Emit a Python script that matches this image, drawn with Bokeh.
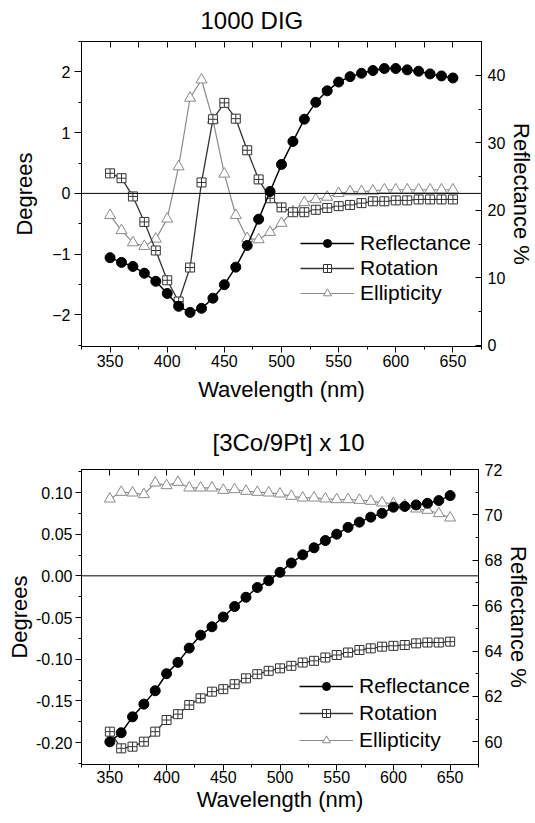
from bokeh.plotting import figure
from bokeh.models import (Range1d, LinearAxis, FixedTicker, Span, Legend, LegendItem,
                          PrintfTickFormatter)
from bokeh.layouts import column
from bokeh.embed import file_html
from bokeh.resources import INLINE

# ---------------- data ----------------
wavelength = [350, 360, 370, 380, 390, 400, 410, 420, 430, 440, 450, 460, 470, 480, 490, 500,
              510, 520, 530, 540, 550, 560, 570, 580, 590, 600, 610, 620, 630, 640, 650]

# Panel 1: 1000 DIG
dig_reflectance = [13.0, 12.3, 11.7, 10.7, 9.5, 7.7, 5.8, 4.9, 5.5, 7.0, 9.0, 11.6, 14.8, 18.7,
                   22.8, 26.8, 30.2, 33.5, 36.0, 37.7, 39.0, 39.8, 40.3, 40.7, 41.0, 41.0, 40.8,
                   40.6, 40.2, 39.9, 39.6]
dig_rotation = [0.33, 0.25, -0.05, -0.47, -0.94, -1.43, -1.78, -1.22, 0.18, 1.22, 1.49, 1.23,
                0.71, 0.23, -0.08, -0.23, -0.31, -0.31, -0.27, -0.24, -0.21, -0.19, -0.16,
                -0.13, -0.13, -0.115, -0.115, -0.10, -0.10, -0.10, -0.10]
dig_ellipticity = [-0.36, -0.61, -0.81, -0.87, -0.75, -0.42, 0.44, 1.57, 1.87, 1.21, 0.32, -0.36,
                   -0.74, -0.76, -0.64, -0.49, -0.30, -0.15, -0.10, -0.06, 0.0, 0.03, 0.03, 0.04,
                   0.06, 0.06, 0.06, 0.06, 0.06, 0.06, 0.06]

# Panel 2: [3Co/9Pt] x 10
copt_reflectance = [60.0, 60.4, 61.1, 61.66, 62.25, 63.0, 63.5, 64.13, 64.7, 65.07, 65.5, 65.96,
                    66.37, 66.8, 67.1, 67.47, 67.88, 68.24, 68.55, 68.87, 69.15, 69.45, 69.68,
                    69.9, 70.07, 70.34, 70.37, 70.44, 70.51, 70.63, 70.85]
copt_rotation = [-0.187, -0.207, -0.205, -0.199, -0.187, -0.173, -0.166, -0.155, -0.147, -0.139,
                 -0.136, -0.130, -0.123, -0.118, -0.114, -0.111, -0.108, -0.104, -0.102, -0.098,
                 -0.095, -0.092, -0.089, -0.087, -0.085, -0.084, -0.083, -0.081, -0.080, -0.080,
                 -0.079]
copt_ellipticity = [0.0924, 0.1004, 0.0996, 0.0976, 0.1116, 0.1084, 0.1124, 0.1056, 0.1056,
                    0.1056, 0.1028, 0.1036, 0.1016, 0.1004, 0.0996, 0.0984, 0.0956, 0.0936,
                    0.0936, 0.0924, 0.0916, 0.0916, 0.0908, 0.0896, 0.0876, 0.0868, 0.0844,
                    0.0804, 0.0788, 0.0748, 0.0696]

x_major = [350, 400, 450, 500, 550, 600, 650]
x_minor = [325, 375, 425, 475, 525, 575, 625, 675]

FONT = "Liberation Sans"
C_REFL = "#000000"
C_ROT = "#333333"
C_ELL = "#8a8a8a"


def style_axis(ax, tick_in=0, tick_out=6, standoff=4, label_standoff=10):
    ax.major_label_text_font = FONT
    ax.major_label_text_font_size = "16px"
    ax.major_label_text_color = "black"
    ax.axis_label_text_font = FONT
    ax.axis_label_text_font_size = "22px"
    ax.axis_label_text_font_style = "normal"
    ax.axis_label_text_color = "black"
    ax.axis_line_color = "black"
    ax.major_tick_line_color = "black"
    ax.minor_tick_line_color = "black"
    ax.major_tick_in = tick_in
    ax.major_tick_out = tick_out
    ax.minor_tick_in = tick_in // 2 if tick_in else 0
    ax.minor_tick_out = tick_out // 2 if tick_out else 0
    ax.major_label_standoff = standoff
    ax.axis_label_standoff = label_standoff


def make_panel(title, title_offset, title_standoff, frame, borders, yrange, yticks, yminor,
               rrange, rticks, rminor, refl, rot, ell, legend_loc, leg_spacing,
               left_fmt=None, left_ax=(7, 4, 12), bottom_ax=(6, 2, 7)):
    bl, br, bt, bb = borders
    p = figure(frame_width=frame[0], frame_height=frame[1], output_backend="svg",
               toolbar_location=None,
               x_range=Range1d(325, 675), y_range=Range1d(*yrange),
               min_border_left=bl, min_border_right=br, min_border_top=bt, min_border_bottom=bb)
    p.extra_y_ranges = {"refl": Range1d(*rrange)}
    p.xgrid.visible = False
    p.ygrid.visible = False
    p.outline_line_color = "black"
    p.outline_line_width = 1
    p.background_fill_color = "white"
    p.border_fill_color = "white"

    p.title.text = title
    p.title.text_font = FONT
    p.title.text_font_size = "24px"
    p.title.text_font_style = "normal"
    p.title.text_color = "black"
    p.title.align = "left"
    p.title.vertical_align = "top"
    p.title.offset = title_offset
    p.title.standoff = title_standoff

    # bottom axis
    xa = p.xaxis[0]
    xa.ticker = FixedTicker(ticks=x_major, minor_ticks=x_minor)
    xa.axis_label = "Wavelength (nm)"
    style_axis(xa, tick_in=0, tick_out=bottom_ax[0], standoff=bottom_ax[1],
               label_standoff=bottom_ax[2])

    # top mirror ticks (minor-only ticker, so no tick labels are produced)
    ta = LinearAxis(ticker=FixedTicker(ticks=[], minor_ticks=sorted(x_major + x_minor)))
    style_axis(ta, tick_in=0, tick_out=0, standoff=0, label_standoff=0)
    ta.minor_tick_in = 6
    ta.minor_tick_out = 0
    p.add_layout(ta, "above")

    # left axis
    ya = p.yaxis[0]
    ya.ticker = FixedTicker(ticks=yticks, minor_ticks=yminor)
    ya.axis_label = "Degrees"
    style_axis(ya, tick_in=0, tick_out=left_ax[0], standoff=left_ax[1], label_standoff=left_ax[2])
    if left_fmt:
        ya.formatter = PrintfTickFormatter(format=left_fmt)

    # right axis
    ra = LinearAxis(y_range_name="refl", ticker=FixedTicker(ticks=rticks, minor_ticks=rminor))
    ra.axis_label = "Reflectance %"
    style_axis(ra, tick_in=6, tick_out=0, standoff=6, label_standoff=1)
    p.add_layout(ra, "right")

    p.add_layout(Span(location=0, dimension="width", line_color="black", line_width=1))

    l_ell = p.line(wavelength, ell, line_color=C_ELL, line_width=1.2)
    s_ell = p.scatter(wavelength, ell, marker="triangle", size=11, line_color=C_ELL,
                      fill_color="white", line_width=1)
    l_rot = p.line(wavelength, rot, line_color=C_ROT, line_width=1.3)
    s_rot = p.scatter(wavelength, rot, marker="square_cross", size=9, line_color=C_ROT,
                      fill_color="white", line_width=1)
    l_ref = p.line(wavelength, refl, y_range_name="refl", line_color=C_REFL, line_width=1.5)
    s_ref = p.scatter(wavelength, refl, y_range_name="refl", marker="circle", size=10,
                      line_color=C_REFL, fill_color=C_REFL)

    leg = Legend(items=[LegendItem(label="Reflectance", renderers=[l_ref, s_ref]),
                        LegendItem(label="Rotation", renderers=[l_rot, s_rot]),
                        LegendItem(label="Ellipticity", renderers=[l_ell, s_ell])],
                 location=legend_loc, border_line_color=None, background_fill_alpha=0,
                 padding=0, margin=0, spacing=leg_spacing, glyph_width=54,
                 glyph_height=20, label_height=20, label_standoff=6,
                 label_text_font=FONT, label_text_font_size="21px", label_text_color="black")
    p.add_layout(leg)
    return p


p1 = make_panel("1000 DIG", 119, 12, (400, 305), (78, 57, 41, 69),
                (-2.52, 2.5), [-2, -1, 0, 1, 2], [-2.5, -1.5, -0.5, 0.5, 1.5, 2.5],
                (-0.15, 45), [0, 10, 20, 30, 40], [5, 15, 25, 35, 45],
                dig_reflectance, dig_rotation, dig_ellipticity,
                (219, 41), 1, left_ax=(7, 4, 12), bottom_ax=(6, 2, 7))

p2 = make_panel("[3Co/9Pt] x 10", 131, 23, (397, 295), (81, 57, 54, 56),
                (-0.2264, 0.1276), [-0.20, -0.15, -0.10, -0.05, 0.0, 0.05, 0.10],
                [-0.225, -0.175, -0.125, -0.075, -0.025, 0.025, 0.075, 0.125],
                (59, 72), [60, 62, 64, 66, 68, 70, 72], [59, 61, 63, 65, 67, 69, 71],
                copt_reflectance, copt_rotation, copt_ellipticity,
                (218, 12), 3, left_fmt="%.2f", left_ax=(6, 3, 1), bottom_ax=(6, 0, 1))

layout = column(p1, p2, spacing=0)
open("out.html", "w").write(file_html(layout, INLINE))
